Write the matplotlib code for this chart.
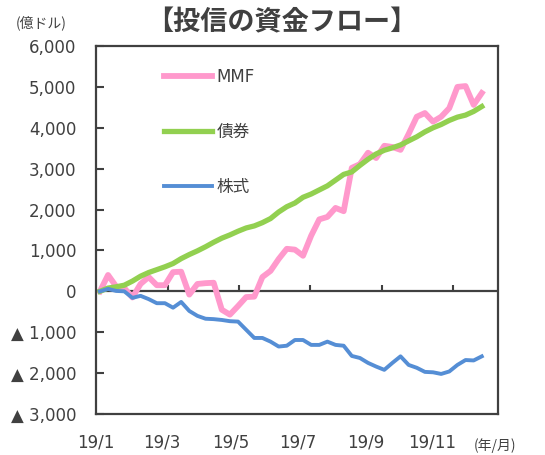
import matplotlib
matplotlib.use('Agg')
import matplotlib.pyplot as plt
import numpy as np

plt.rcParams['font.family'] = ['DejaVu Sans', 'Noto Sans CJK JP']

# 週次データ (2019/1/1 起点の日数)
days = np.arange(48) * 7
mmf = [0, 400, 120, 80, -150, 180, 350, 150, 150, 470, 480, -80, 180, 200, 210, -450,
       -570, -360, -140, -130, 350, 500, 790, 1040, 1020, 870, 1360, 1760, 1820, 2040,
       1960, 3020, 3110, 3390, 3260, 3560, 3530, 3460, 3850, 4270, 4360, 4150, 4270,
       4480, 5000, 5020, 4560, 4850]
bond = [0, 80, 110, 150, 250, 370, 460, 530, 600, 680, 800, 900, 990, 1090, 1200, 1300,
        1380, 1470, 1550, 1600, 1680, 1780, 1940, 2070, 2160, 2300, 2380, 2480, 2580,
        2720, 2860, 2920, 3080, 3230, 3360, 3450, 3510, 3580, 3680, 3780, 3900, 4000,
        4080, 4180, 4260, 4310, 4400, 4520]
stock = [0, 60, 10, 0, -160, -110, -190, -290, -290, -400, -260, -480, -600, -670, -680,
         -700, -730, -740, -940, -1140, -1140, -1230, -1350, -1330, -1190, -1190, -1310,
         -1310, -1230, -1310, -1330, -1580, -1630, -1750, -1840, -1920, -1750, -1590,
         -1800, -1870, -1970, -1980, -2020, -1960, -1800, -1680, -1690, -1590]

month_ticks = [59, 120, 181, 243, 304]  # 3/1, 5/1, 7/1, 9/1, 11/1
label_pos = [-3.4, 53.7, 112.5, 170.5, 229.3, 286.5]
x_labels = ['19/1', '19/3', '19/5', '19/7', '19/9', '19/11']
y_ticks = [6000, 5000, 4000, 3000, 2000, 1000, 0, -1000, -2000, -3000]

axis_color = '#404040'
text_color = '#404040'

fig = plt.figure(figsize=(5.45, 4.55), dpi=100)
ax = fig.add_axes([0.1761, 0.0901, 0.7377, 0.8088])

ax.plot(days, mmf, color='#FF99CC', lw=4.2, label='MMF', solid_joinstyle='round')
ax.plot(days, bond, color='#92D050', lw=3.8, label='債券', solid_joinstyle='round')
ax.plot(days, stock, color='#558ED5', lw=2.8, label='株式', solid_joinstyle='round')

ax.set_xlim(0, 343)
ax.set_ylim(-3000, 6000)

# ゼロ線と月目盛
ax.axhline(0, color=axis_color, lw=1.6, zorder=1)
ax.vlines(month_ticks, 0, 150, color=axis_color, lw=1.5, zorder=1)

for s in ax.spines.values():
    s.set_color(axis_color)
    s.set_linewidth(1.6)

ax.set_yticks(y_ticks)
ax.set_yticklabels([f'{v:,}' if v >= 0 else f'▲ {-v:,}' for v in y_ticks])
ax.tick_params(axis='y', direction='in', length=6, width=1.5, color=axis_color,
               labelsize=12, labelcolor=text_color, pad=14)
ax.set_xticks(label_pos)
ax.set_xticklabels(x_labels)
ax.tick_params(axis='x', length=0, labelsize=12, labelcolor=text_color, pad=14)

leg = ax.legend(loc='upper left', bbox_to_anchor=(0.148, 0.962), frameon=False,
                fontsize=12, labelspacing=2.2, handlelength=2.9, handletextpad=0.25,
                borderpad=0)
for t in leg.get_texts():
    t.set_color(text_color)

fig.text(0.517, 1 - 22 / 455, '【投信の資金フロー】', ha='center', va='center',
         fontsize=19.5, fontweight='bold', color=text_color,
         family=['Noto Sans CJK JP'])
fig.text(0.028, 1 - 23 / 455, '(億ドル)', ha='left', va='center', fontsize=10,
         color=text_color, family=['Noto Sans CJK JP'])
fig.text(0.908, 1 - 446 / 455, '(年/月)', ha='center', va='center', fontsize=10,
         color=text_color, family=['Noto Sans CJK JP'])

plt.savefig('out.png', dpi=100)
